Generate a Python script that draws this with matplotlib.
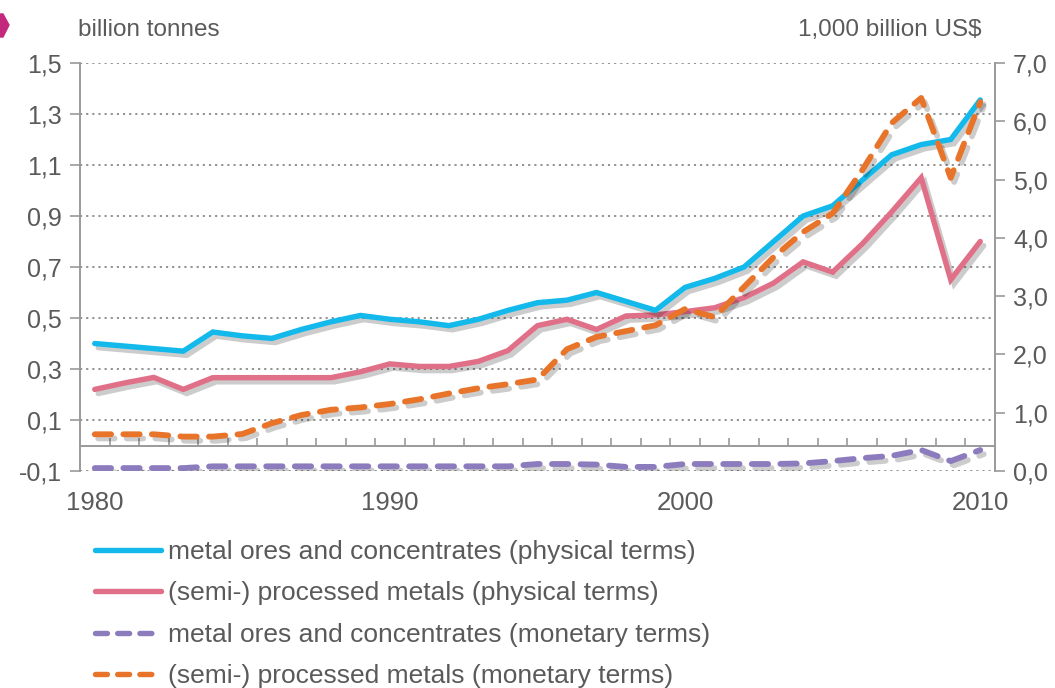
import matplotlib
matplotlib.use('Agg')
import matplotlib.pyplot as plt
import matplotlib.patheffects as pe
from matplotlib.lines import Line2D
from matplotlib.patches import Polygon
from matplotlib.ticker import FuncFormatter

plt.rcParams['font.family'] = ['Liberation Sans', 'DejaVu Sans']

years = list(range(1980, 2011))

# billion tonnes (left axis)
ores_phys = [0.40, 0.39, 0.38, 0.37, 0.445, 0.43, 0.42, 0.455, 0.485, 0.51,
             0.495, 0.485, 0.47, 0.495, 0.53, 0.56, 0.57, 0.60, 0.565, 0.53,
             0.62, 0.655, 0.70, 0.80, 0.90, 0.94, 1.04, 1.14, 1.18, 1.20, 1.355]
processed_phys = [0.22, 0.245, 0.267, 0.22, 0.266, 0.266, 0.266, 0.266, 0.266, 0.289,
                  0.32, 0.31, 0.31, 0.33, 0.372, 0.47, 0.495, 0.455, 0.508, 0.512,
                  0.525, 0.54, 0.58, 0.637, 0.72, 0.68, 0.79, 0.916, 1.05, 0.65, 0.80]

# 1,000 billion US$ (right axis)
ores_mon = [0.05, 0.05, 0.05, 0.05, 0.08, 0.08, 0.08, 0.08, 0.08, 0.08,
            0.08, 0.08, 0.08, 0.08, 0.08, 0.12, 0.12, 0.11, 0.07, 0.07,
            0.12, 0.12, 0.12, 0.12, 0.13, 0.17, 0.22, 0.26, 0.36, 0.17, 0.36]
processed_mon = [0.63, 0.63, 0.63, 0.59, 0.59, 0.635, 0.82, 0.96, 1.05, 1.09,
                 1.15, 1.23, 1.33, 1.42, 1.49, 1.57, 2.09, 2.30, 2.40, 2.50,
                 2.78, 2.64, 3.16, 3.67, 4.10, 4.42, 5.16, 5.97, 6.40, 5.03, 6.33]

labels = ['metal ores and concentrates (physical terms)',
          '(semi-) processed metals (physical terms)',
          'metal ores and concentrates (monetary terms)',
          '(semi-) processed metals (monetary terms)']

c_cyan = '#12b9ea'
c_pink = '#e07088'
c_purple = '#8c7cbe'
c_orange = '#e8742a'
grey = '#5a5a5a'
axis_grey = '#9a9a9a'

fig = plt.figure(figsize=(10.55, 6.88), dpi=100)
ax = fig.add_axes([80 / 1055, 1 - 471 / 688, 915 / 1055, 408 / 688])
ax2 = ax.twinx()

shadow = [pe.SimpleLineShadow(offset=(2.5, -3), shadow_color='black', alpha=0.2), pe.Normal()]
lw = 3.9
dlw = 4.2

ax.plot(years, processed_phys, color=c_pink, lw=lw, solid_capstyle='round',
        solid_joinstyle='miter', path_effects=shadow, zorder=3)
ax.plot(years, ores_phys, color=c_cyan, lw=lw, solid_capstyle='round',
        solid_joinstyle='miter', path_effects=shadow, zorder=4)
ax2.plot(years, ores_mon, color=c_purple, lw=dlw, dashes=(2.8, 2.1),
         dash_capstyle='round', path_effects=shadow)
ax2.plot(years, processed_mon, color=c_orange, lw=dlw, dashes=(2.8, 2.1),
         dash_capstyle='round', path_effects=shadow)

# left axis
ax.set_xlim(1979.5, 2010.5)
ax.set_ylim(-0.1, 1.5)
left_ticks = [-0.1, 0.1, 0.3, 0.5, 0.7, 0.9, 1.1, 1.3, 1.5]
ax.set_yticks(left_ticks)
ax.yaxis.set_major_formatter(FuncFormatter(lambda v, p: f'{v:.1f}'.replace('.', ',')))
ax.tick_params(axis='y', direction='out', length=7, width=1.2, color=axis_grey,
               labelsize=18, labelcolor=grey, pad=6)
ax.grid(axis='y', linestyle=(0, (1.2, 2.2)), color='#8a8a8a', lw=1.3)
ax.set_axisbelow(True)

# x axis sits on the zero line, with labels below the plot
ax.spines['bottom'].set_position(('data', 0))
ax.spines['bottom'].set_color(axis_grey)
ax.spines['bottom'].set_linewidth(1.4)
ax.set_xticks([1980, 1990, 2000, 2010])
ax.set_xticks([y + 0.5 for y in years[:-1]], minor=True)
ax.tick_params(axis='x', which='major', length=0, labelsize=18.5, labelcolor=grey, pad=33)
ax.tick_params(axis='x', which='minor', direction='in', length=6, width=1.2, color=axis_grey)
ax.spines['left'].set_color(axis_grey)
ax.spines['left'].set_linewidth(1.4)
for s in ['top', 'right']:
    ax.spines[s].set_visible(False)

# right axis
ax2.set_ylim(0, 7.0)
ax2.set_yticks([0, 1, 2, 3, 4, 5, 6, 7])
ax2.yaxis.set_major_formatter(FuncFormatter(lambda v, p: f'{v:.1f}'.replace('.', ',')))
ax2.tick_params(axis='y', direction='out', length=7, width=1.2, color=axis_grey,
                labelsize=18, labelcolor=grey, pad=6)
ax2.spines['right'].set_color(axis_grey)
ax2.spines['right'].set_linewidth(1.4)
for s in ['top', 'left', 'bottom']:
    ax2.spines[s].set_visible(False)

fig.text(78 / 1055, 1 - 30 / 688, 'billion tonnes', fontsize=17.5, color=grey,
         ha='left', va='center')
fig.text(982 / 1055, 1 - 30 / 688, '1,000 billion US$', fontsize=17.5, color=grey,
         ha='right', va='center')

# little magenta marker in the corner
fig.patches.append(Polygon([(0, 1 - 14 / 688), (3 / 1055, 1 - 14 / 688),
                            (9 / 1055, 1 - 25 / 688), (3 / 1055, 1 - 37 / 688),
                            (0, 1 - 37 / 688)], closed=True, color='#c42a7c',
                           transform=fig.transFigure))

handles = [Line2D([], [], color=c_cyan, lw=lw, solid_capstyle='round'),
           Line2D([], [], color=c_pink, lw=lw, solid_capstyle='round'),
           Line2D([], [], color=c_purple, lw=lw, dashes=(2.2, 1.9), dash_capstyle='round'),
           Line2D([], [], color=c_orange, lw=lw, dashes=(2.2, 1.9), dash_capstyle='round')]
leg = fig.legend(handles, labels, loc='upper left', bbox_to_anchor=(95 / 1055, 1 - 540 / 688),
                 frameon=False, fontsize=19, handlelength=2.5, handletextpad=0.28,
                 labelspacing=0.66, borderpad=0, borderaxespad=0)
for t in leg.get_texts():
    t.set_color(grey)

fig.savefig('out.png', dpi=100, facecolor='white')
